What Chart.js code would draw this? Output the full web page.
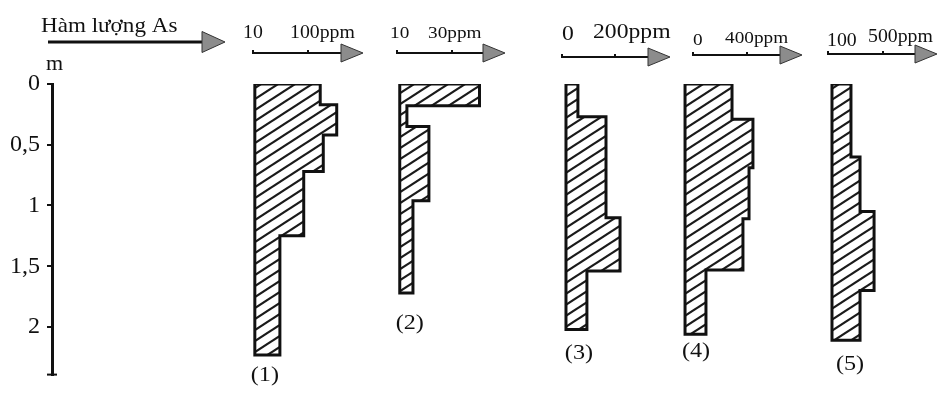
<!DOCTYPE html>
<html><head><meta charset="utf-8">
<script src="https://cdn.jsdelivr.net/npm/chart.js@4/dist/chart.umd.min.js"></script>
<style>html,body{margin:0;padding:0;background:#fff}#wrap{width:938px;height:396px;position:relative}</style>
</head><body><div id="wrap"><canvas id="c"></canvas></div>
<script>
// ---- data ----
const titleText = 'Hàm lượng As';
const depthUnit = 'm';
const profileNames = ['(1)', '(2)', '(3)', '(4)', '(5)'];
const depthTicks = [0, 0.5, 1, 1.5, 2];
const depthMax = 2.392;

const p1Depths = [0, 0.17, 0.42, 0.72, 1.25, 2.23];
const p1Values = [120, 147, 125, 93, 54];
const p2Depths = [0, 0.18, 0.35, 0.96, 1.72];
const p2Values = [40, 13.6, 21.6, 15.8];
const p3Depths = [0, 0.27, 1.10, 1.54, 2.02];
const p3Values = [60, 166, 219, 94];
const p4Depths = [0, 0.29, 0.69, 1.11, 1.53, 2.06];
const p4Values = [289, 444, 415, 370, 96];
const p5Depths = [0, 0.60, 1.05, 1.70, 2.11];
const p5Values = [267, 333, 435, 333];
const baseValues = [13, 11, 15, -59, 129];

const axisTickValues = [[10, 100], [10, 30], [0, 200], [0, 400], [100, 500]];
const axisTickLabels = [['10', '100ppm'], ['10', '30ppm'], ['0', '200ppm'], ['0', '400ppm'], ['100', '500ppm']];

// ---- layout / style ----
const axisRanges = [[-318.9, 190], [-2.364, 49.27], [-215.1, 407.5], [-170.4, 807.4], [-89.1, 900]];
const boxWeights = [311, 142, 165, 132, 136];
const axisLineY = [53, 53, 57, 55, 54];
const axisFont = [18, 17.5, 21.5, 17.5, 18];
const labelDx = [[-10, -18], [-7, -24], [0, -22], [0, -22], [-1, -15]];
const labelBase = [[38, 38], [38, 38], [40, 38], [45, 43], [46, 42]];
const nameDx = [10, 10, 13, 11, 18];
const nameDy = [25.6, 36, 29.6, 22.6, 30];
const serif = "'Liberation Serif', 'Times New Roman', serif";

const depthSets = [p1Depths, p2Depths, p3Depths, p4Depths, p5Depths];
const valueSets = [p1Values, p2Values, p3Values, p4Values, p5Values];

function outline(depths, values, base) {
  const pts = [{x: base, y: depths[0]}];
  values.forEach((v, i) => { pts.push({x: v, y: depths[i]}); pts.push({x: v, y: depths[i + 1]}); });
  pts.push({x: base, y: depths[depths.length - 1]});
  pts.push({x: base, y: depths[0]});
  return pts;
}

function hatch() {
  const w = 17, h = 11;
  const t = document.createElement('canvas'); t.width = w; t.height = h;
  const c = t.getContext('2d');
  c.strokeStyle = '#1a1a1a'; c.lineWidth = 2.2;
  for (let k = -1; k <= 1; k++) {
    c.beginPath(); c.moveTo(-w, 2 * h + k * h); c.lineTo(2 * w, -h + k * h); c.stroke();
  }
  return document.getElementById('c').getContext('2d').createPattern(t, 'repeat');
}
const pattern = hatch();

const scales = {
  y: {
    type: 'linear', reverse: true, min: 0, max: depthMax, position: 'left',
    afterFit: s => { s.width = 52; },
    afterBuildTicks: s => { s.ticks = depthTicks.map(v => ({value: v})); },
    ticks: {callback: v => String(v).replace('.', ','), font: {family: serif, size: 24}, color: '#111', padding: 7},
    grid: {display: true, drawOnChartArea: false, drawTicks: true, tickLength: 5, color: '#111', lineWidth: 2},
    border: {display: true, color: '#111', width: 3}
  }
};
axisTickValues.forEach((tv, i) => {
  scales['x' + (i + 1)] = {
    type: 'linear', position: 'top', stack: 'profiles', stackWeight: boxWeights[i], weight: 10 - i,
    min: axisRanges[i][0], max: axisRanges[i][1],
    afterFit: s => { s.height = 84; },
    afterBuildTicks: s => { s.ticks = tv.map(v => ({value: v})); },
    ticks: {display: false}, grid: {display: false}, border: {display: false}
  };
});

const deco = {
  id: 'deco',
  afterDraw(chart) {
    const ctx = chart.ctx;
    function txt(s, x, y, size, align) {
      ctx.save();
      ctx.font = size + 'px ' + serif; ctx.fillStyle = '#111';
      ctx.textBaseline = 'alphabetic'; ctx.textAlign = align || 'left';
      ctx.translate(x, y); ctx.scale(1.1, 1); ctx.fillText(s, 0, 0);
      ctx.restore();
    }
    function arrow(x0, x1, y, head, half, lw) {
      ctx.save();
      ctx.strokeStyle = '#111'; ctx.lineWidth = lw;
      ctx.beginPath(); ctx.moveTo(x0, y); ctx.lineTo(x1 - head + 2, y); ctx.stroke();
      ctx.beginPath(); ctx.moveTo(x1 - head, y - half); ctx.lineTo(x1, y); ctx.lineTo(x1 - head, y + half); ctx.closePath();
      ctx.fillStyle = '#8c8c8c'; ctx.fill(); ctx.lineWidth = 1; ctx.strokeStyle = '#333'; ctx.stroke();
      ctx.restore();
    }
    txt(titleText, 41, 32, 21);
    arrow(48, 225, 42, 23, 10.5, 3);
    txt(depthUnit, 46, 70, 20);
    axisTickValues.forEach((tv, i) => {
      const s = chart.scales['x' + (i + 1)];
      const y = axisLineY[i];
      const x0 = s.getPixelForValue(tv[0]);
      arrow(x0, s.right - (i === 4 ? 1 : 0), y, 22, 9, 2);
      tv.forEach((v, j) => {
        const px = s.getPixelForValue(v);
        ctx.fillStyle = '#111'; ctx.fillRect(px - 1, y - 3, 2, 4);
        txt(axisTickLabels[i][j], px + labelDx[i][j], labelBase[i][j], axisFont[i]);
      });
    });
    const ys = chart.scales.y;
    ctx.save(); ctx.strokeStyle = '#111'; ctx.lineWidth = 2;
    ctx.beginPath(); ctx.moveTo(ys.right - 5, chart.chartArea.bottom); ctx.lineTo(ys.right + 5, chart.chartArea.bottom); ctx.stroke();
    ctx.restore();
    profileNames.forEach((n, i) => {
      const s = chart.scales['x' + (i + 1)];
      const d = depthSets[i];
      txt(n, s.getPixelForValue(baseValues[i]) + nameDx[i], ys.getPixelForValue(d[d.length - 1]) + nameDy[i], 22, 'center');
    });
  }
};

new Chart(document.getElementById('c'), {
  type: 'line',
  data: {
    datasets: valueSets.map((vals, i) => ({
      data: outline(depthSets[i], vals, baseValues[i]),
      xAxisID: 'x' + (i + 1), yAxisID: 'y',
      showLine: true, fill: 'shape', backgroundColor: pattern,
      borderColor: '#111', borderWidth: 3, pointRadius: 0, tension: 0,
      borderJoinStyle: 'miter', borderCapStyle: 'square'
    }))
  },
  options: {
    responsive: true, maintainAspectRatio: false, animation: false, events: [],
    layout: {padding: {left: 0, right: 0, top: 0, bottom: 13}, autoPadding: false},
    plugins: {legend: {display: false}, tooltip: {enabled: false}},
    scales: scales
  },
  plugins: [deco]
});
</script>
</body></html>
